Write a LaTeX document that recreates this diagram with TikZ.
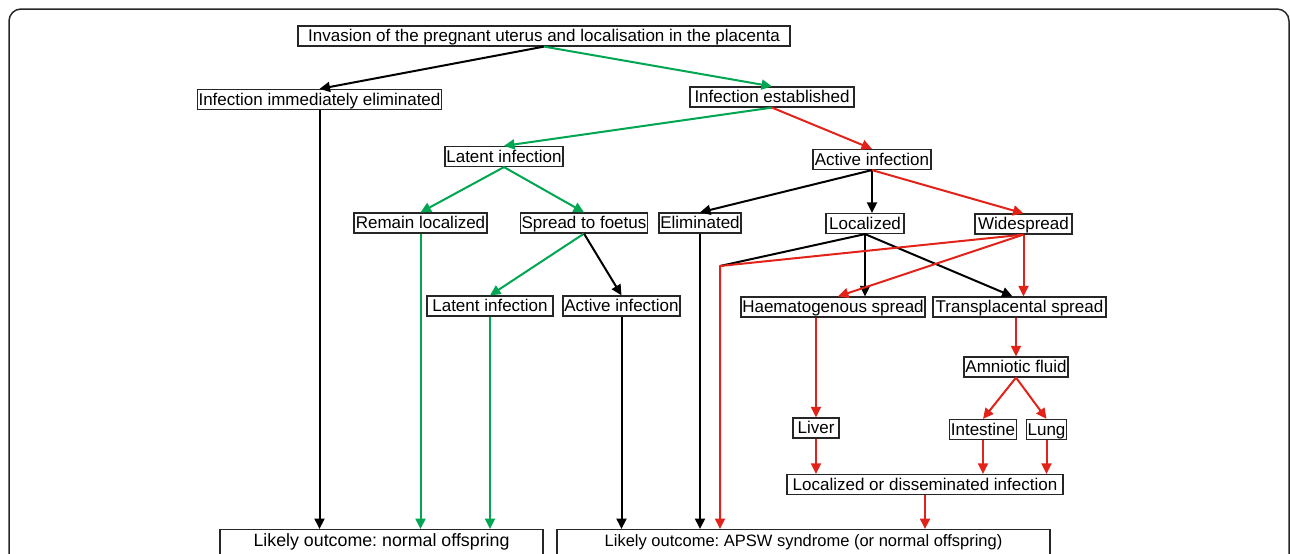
\documentclass[tikz,border=0pt]{standalone}
\usepackage{fontspec}
\setmainfont{Liberation Sans}
\usepackage{tikz}
\usetikzlibrary{arrows.meta}
\definecolor{latentgreen}{RGB}{0,166,81}
\definecolor{activered}{RGB}{226,35,26}
\frenchspacing

\begin{document}
\begin{tikzpicture}[x=1pt,y=-1pt,>={Triangle[length=10.5pt,width=10pt]}]
	\tikzstyle{block} = [draw, shape=rectangle, line width=1.2pt, draw=black!85, inner xsep=1pt, inner ysep=2pt, text height=13.5pt, text depth=2.5pt, font=\fontsize{17}{18}\selectfont]
	\tikzstyle{outcome} = [block, anchor=north, text height=15pt, text depth=14pt]
	\useasboundingbox (0,0) rectangle (1290,554);
	\draw[line width=1.5pt, black!85, rounded corners=12pt] (9,600) -- (9,9) -- (1289,9) -- (1289,600);
	%Creating Blocks
	\node [block, minimum width=492pt] at (544,36) (invasion) {Invasion of the pregnant uterus and localisation in the placenta};
	\node [block, minimum width=243pt] at (319.5,99.5) (eliminatedNow) {Infection immediately eliminated};
	\node [block, minimum width=164pt] at (772,97) (established) {Infection established};
	\node [block, minimum width=118pt] at (504,156.5) (latentA) {Latent infection};
	\node [block, minimum width=118pt] at (872,159.5) (activeA) {Active infection};
	\node [block, minimum width=133pt] at (420.5,223) (remain) {Remain localized};
	\node [block, minimum width=126pt] at (584,223) (spread) {Spread to foetus};
	\node [block, minimum width=82pt] at (700,223) (eliminated) {Eliminated};
	\node [block, minimum width=78pt] at (865,223.5) (localized) {Localized};
	\node [block, minimum width=97pt] at (1023.5,224) (widespread) {Widespread};
	\node [block, minimum width=126pt] at (490,306) (latentB) {Latent infection};
	\node [block, minimum width=117pt] at (621.5,306) (activeB) {Active infection};
	\node [block, minimum width=184pt] at (833,307) (haem) {Haematogenous spread};
	\node [block, minimum width=173pt] at (1019.5,307) (transpl) {Transplacental spread};
	\node [block, minimum width=104pt] at (1016,367) (amniotic) {Amniotic fluid};
	\node [block, minimum width=46pt] at (816,428) (liver) {Liver};
	\node [block, minimum width=66pt] at (983,429.5) (intestine) {Intestine};
	\node [block, minimum width=39pt] at (1046.5,429.5) (lung) {Lung};
	\node [block, minimum width=276pt] at (925,484.5) (dissem) {Localized or disseminated infection};
	\node [outcome, minimum width=323pt, font=\fontsize{17.8}{19}\selectfont] at (381.5,529) (normal) {Likely outcome: normal offspring};
	\node [outcome, minimum width=493pt, font=\fontsize{16.5}{18}\selectfont] at (803.5,529) (apsw) {Likely outcome: APSW syndrome (or normal offspring)};
	\coordinate (bend) at (720,266);
	%Conecting Blocks
	\begin{scope}[line width=2pt]
	\draw[->] (invasion.south) -- (eliminatedNow.north);
	\draw[->, latentgreen] (invasion.south) -- (established.north);
	\draw[->, latentgreen] (established.south) -- (latentA.north);
	\draw[->, activered] (established.south) -- (activeA.north);
	\draw[->] (eliminatedNow.south) -- (eliminatedNow.south |- normal.north);
	\draw[->, latentgreen] (latentA.south) -- (remain.north);
	\draw[->, latentgreen] (latentA.south) -- (spread.north);
	\draw[->, latentgreen] (remain.south) -- (remain.south |- normal.north);
	\draw[->, latentgreen] (spread.south) -- (latentB.north);
	\draw[->] (spread.south) -- (activeB.north);
	\draw[->, latentgreen] (latentB.south) -- (latentB.south |- normal.north);
	\draw[->] (activeB.south) -- (activeB.south |- apsw.north);
	\draw[->] (activeA.south) -- (eliminated.north);
	\draw[->] (activeA.south) -- (activeA.south |- localized.north);
	\draw[->, activered] (activeA.south) -- (widespread.north);
	\draw[->] (eliminated.south) -- (eliminated.south |- apsw.north);
	\draw (localized.south) -- (bend);
	\draw[->] (localized.south) -- (localized.south |- haem.north);
	\draw[->] (localized.south) -- ([xshift=-7pt]transpl.north);
	\draw[->, activered, line join=round] (widespread.south) -- (bend) -- (bend |- apsw.north);
	\draw[->, activered] (widespread.south) -- ([xshift=5pt]haem.north);
	\draw[->, activered] (widespread.south) -- (widespread.south |- transpl.north);
	\draw[->, activered] (liver.north |- haem.south) -- (liver.north);
	\draw[->, activered] (amniotic.north |- transpl.south) -- (amniotic.north);
	\draw[->, activered] (amniotic.south) -- (intestine.north);
	\draw[->, activered] (amniotic.south) -- (lung.north);
	\draw[->, activered] (liver.south) -- (liver.south |- dissem.north);
	\draw[->, activered] (intestine.south) -- (intestine.south |- dissem.north);
	\draw[->, activered] (lung.south) -- (lung.south |- dissem.north);
	\draw[->, activered] (dissem.south) -- (dissem.south |- apsw.north);
	\end{scope}
\end{tikzpicture}
\end{document}
